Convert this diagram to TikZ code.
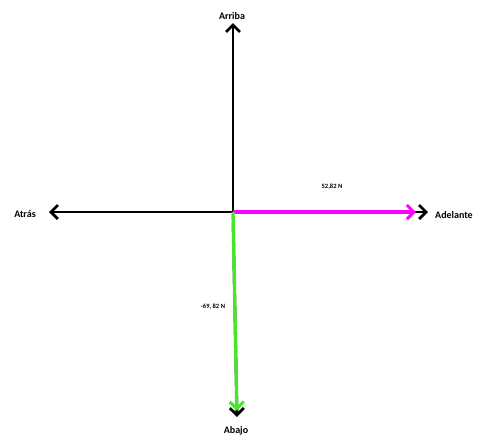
\documentclass[tikz,border=0pt]{standalone}
\usepackage{fontspec}
\setmainfont{Carlito}
\usetikzlibrary{arrows.meta,calc}
\definecolor{mag}{RGB}{255,0,255}
\definecolor{grn}{RGB}{70,230,40}
\begin{document}
\begin{tikzpicture}[x=1pt,y=-1pt,
  vec/.style={line width=2.8pt,-{Straight Barb[length=7pt,width=14pt,line width=2.8pt]}},
  cvec/.style={line width=3.3pt,-{Straight Barb[length=7pt,width=14pt,line width=3pt]}},
  lbl/.style={font=\bfseries\fontsize{10}{11}\selectfont,inner sep=0pt},
  small/.style={font=\bfseries\fontsize{6.5}{7}\selectfont,inner sep=0pt}]
\useasboundingbox (0,0) rectangle (479,437);
\coordinate (o) at (233,212);
\coordinate (up) at (233,23);
\coordinate (left) at (49,212);
\coordinate (right) at (428,212);
\coordinate (rightm) at (416,212);
\coordinate (down) at (237,417);
\coordinate (downg) at ($(o)!0.97!(down)$);
\node[lbl] (arriba) at (232,16) {Arriba};
\node[lbl] (atras) at (25,214) {Atrás};
\node[lbl,anchor=west] (adelante) at (435,215) {Adelante};
\node[lbl] (abajo) at (236,431) {Abajo};
\node[small] (f1) at (332,187) {52,82 N};
\node[small] (f2) at (213,307) {-69, 82 N};
\draw[vec] (o) -- (up);
\draw[vec] (o) -- (left);
\draw[vec] (o) -- (right);
\draw[vec] ($(o)!0.05!(down)$) -- (down);
\draw[cvec,mag] (o) -- (rightm);
\draw[cvec,grn] (o) -- (downg);
\end{tikzpicture}
\end{document}
